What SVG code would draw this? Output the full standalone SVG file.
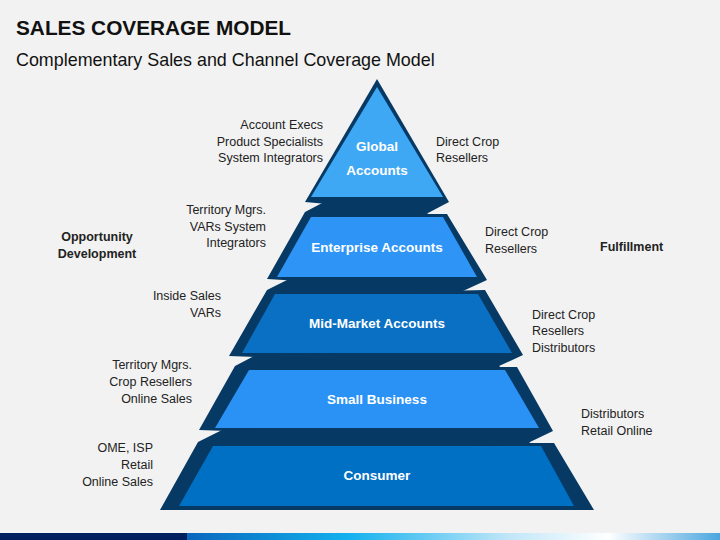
<svg xmlns="http://www.w3.org/2000/svg" width="720" height="540" viewBox="0 0 720 540">
<defs>
<linearGradient id="bar" x1="0" y1="0" x2="1" y2="0">
<stop offset="0" stop-color="#0a67bd"/>
<stop offset="0.3" stop-color="#12b0ee"/>
<stop offset="0.6" stop-color="#bfe6f8"/>
<stop offset="0.79" stop-color="#ffffff"/>
<stop offset="1" stop-color="#4aa6df"/>
</linearGradient>
<style>
.bg{fill:#f2f2f2}
.dk{fill:#063a64}
.t{font-family:"Liberation Sans",Arial,sans-serif;font-size:12.5px;fill:#222}
.r{text-anchor:end}
.b{font-weight:bold}
.lab{font-family:"Liberation Sans",Arial,sans-serif;font-size:13.5px;font-weight:bold;fill:#ffffff;text-anchor:middle}
</style>
</defs>
<rect class="bg" x="0" y="0" width="720" height="540"/>
<text x="16" y="35" style="font-family:'Liberation Sans',Arial,sans-serif;font-size:20.8px;font-weight:bold;fill:#111">SALES COVERAGE MODEL</text>
<text x="16" y="66" style="font-family:'Liberation Sans',Arial,sans-serif;font-size:17.9px;fill:#111">Complementary Sales and Channel Coverage Model</text>

<g id="tier-consumer">
<polygon class="dk" points="198,442 222,430 522,430 530,443 554,443 594,510 160,510"/>
<polygon fill="#0070c4" points="213,446 541,446 574,506 179,506"/>
<text class="lab" x="377" y="480">Consumer</text>
</g>
<g id="tier-small-business">
<polygon class="dk" points="235,366 258,354 492,354 500,367 517,367 553,431 530,442 199,430"/>
<polygon fill="#2b92f5" points="249,370 505,370 539,428 215,428"/>
<text class="lab" x="377" y="404">Small Business</text>
</g>
<g id="tier-mid-market">
<polygon class="dk" points="267,290 291,278 455,278 463,290.5 485,290 523,355 499,366 229,356"/>
<polygon fill="#0a70c4" points="275,294 478,294 512,353 242,353"/>
<text class="lab" x="377" y="328">Mid-Market Accounts</text>
</g>
<g id="tier-enterprise">
<polygon class="dk" points="305,212 326,201 420,201 428,214 447,214 487,280 463,291 267,279"/>
<polygon fill="#2e95f6" points="311,217 443,217 477,277 277,277"/>
<text class="lab" x="377" y="252">Enterprise Accounts</text>
</g>
<g id="tier-global">
<polygon class="dk" points="377,79 449,202 428,213 305,202"/>
<polygon fill="#3fa8f4" points="377,87 443,197 311,197"/>
<text class="lab" x="377" y="151">Global</text>
<text class="lab" x="377" y="175">Accounts</text>
</g>

<g id="labels-global">
<text class="t r" x="323" y="129">Account Execs</text>
<text class="t r" x="323" y="146">Product Specialists</text>
<text class="t r" x="323" y="162">System Integrators</text>
<text class="t" x="436" y="146">Direct Crop</text>
<text class="t" x="436" y="162">Resellers</text>
</g>
<g id="labels-enterprise">
<text class="t r" x="266" y="214">Territory Mgrs.</text>
<text class="t r" x="266" y="231">VARs System</text>
<text class="t r" x="266" y="247">Integrators</text>
<text class="t" x="485" y="236">Direct Crop</text>
<text class="t" x="485" y="253">Resellers</text>
</g>
<g id="labels-mid">
<text class="t r" x="221" y="300">Inside Sales</text>
<text class="t r" x="221" y="317">VARs</text>
<text class="t" x="532" y="319">Direct Crop</text>
<text class="t" x="532" y="335">Resellers</text>
<text class="t" x="532" y="352">Distributors</text>
</g>
<g id="labels-small">
<text class="t r" x="192" y="369">Territory Mgrs.</text>
<text class="t r" x="192" y="386">Crop Resellers</text>
<text class="t r" x="192" y="403">Online Sales</text>
<text class="t" x="581" y="418">Distributors</text>
<text class="t" x="581" y="435">Retail Online</text>
</g>
<g id="labels-consumer">
<text class="t r" x="153" y="452">OME, ISP</text>
<text class="t r" x="153" y="469">Retail</text>
<text class="t r" x="153" y="486">Online Sales</text>
</g>
<g id="side-headings">
<text class="t b" x="97" y="241" text-anchor="middle">Opportunity</text>
<text class="t b" x="97" y="258" text-anchor="middle">Development</text>
<text class="t b" x="600" y="251">Fulfillment</text>
</g>

<rect x="0" y="533" width="187" height="7" fill="#001f5e"/>
<rect x="187" y="533" width="533" height="7" fill="url(#bar)"/>
</svg>
